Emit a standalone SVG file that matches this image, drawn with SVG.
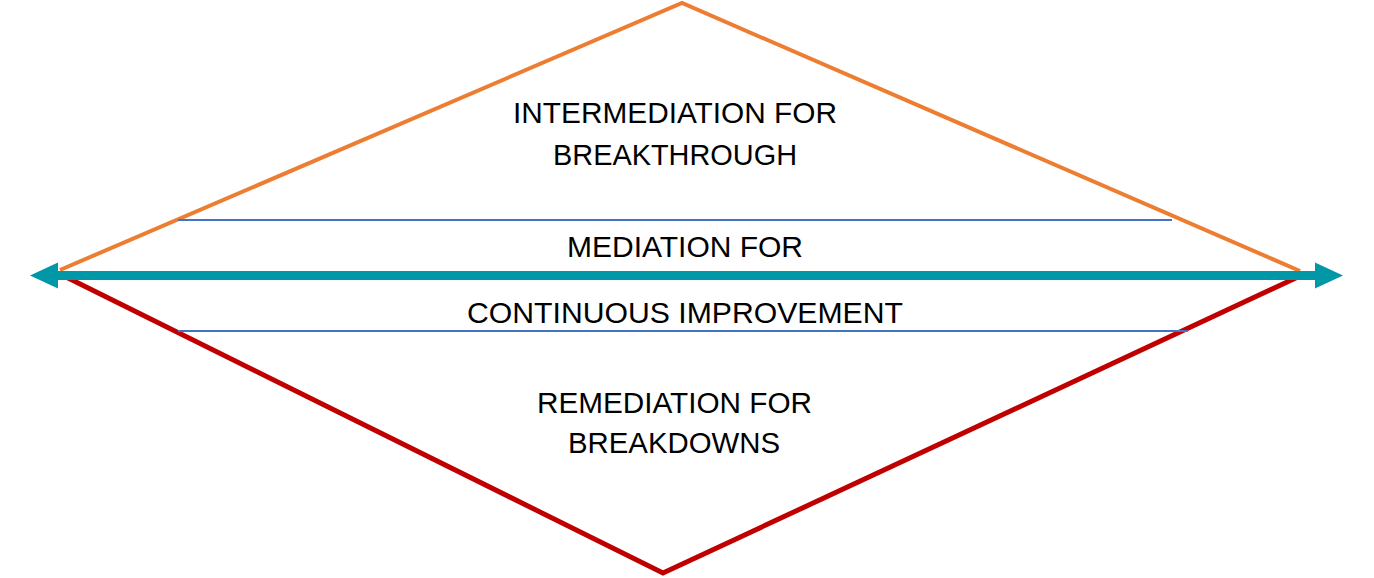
<svg xmlns="http://www.w3.org/2000/svg" width="1374" height="578" viewBox="0 0 1374 578">
<style>
.t{font-family:"Liberation Sans",Arial,sans-serif;font-size:30px;fill:#000;text-anchor:middle}
.sep{stroke:#4472C4;stroke-width:2;fill:none}
</style>
<defs>
<marker id="ah" viewBox="0 0 30 30" refX="2" refY="15" markerWidth="30" markerHeight="30" markerUnits="userSpaceOnUse" orient="auto-start-reverse">
<path d="M0,2 L28,15 L0,28 Z" fill="#0097A7"/>
</marker>
</defs>
<rect width="1374" height="578" fill="#fff"/>
<g id="shapes">
<polyline id="upper" points="60,270 682,3 1300,271" fill="none" stroke="#ED7D31" stroke-width="4"/>
<polyline id="lower" points="60,274 663,573 1300,276" fill="none" stroke="#C00000" stroke-width="5"/>
<line id="sep-top" class="sep" x1="178" y1="220" x2="1172" y2="220"/>
<line id="sep-bottom" class="sep" x1="178" y1="331" x2="1188" y2="331"/>
</g>
<g id="connectors">
<line x1="56" y1="275.5" x2="1317" y2="275.5" stroke="#0097A7" stroke-width="9" marker-start="url(#ah)" marker-end="url(#ah)"/>
</g>
<g id="label-top">
<text class="t" x="675" y="123" textLength="324" lengthAdjust="spacingAndGlyphs">INTERMEDIATION FOR</text>
<text class="t" x="675" y="165" textLength="244" lengthAdjust="spacingAndGlyphs">BREAKTHROUGH</text>
</g>
<g id="label-mid">
<text class="t" x="685" y="257" textLength="236" lengthAdjust="spacingAndGlyphs">MEDIATION FOR</text>
<text class="t" x="685" y="323" textLength="436" lengthAdjust="spacingAndGlyphs">CONTINUOUS IMPROVEMENT</text>
</g>
<g id="label-bottom">
<text class="t" x="674.5" y="413" textLength="275" lengthAdjust="spacingAndGlyphs">REMEDIATION FOR</text>
<text class="t" x="674" y="453" textLength="212" lengthAdjust="spacingAndGlyphs">BREAKDOWNS</text>
</g>
</svg>
